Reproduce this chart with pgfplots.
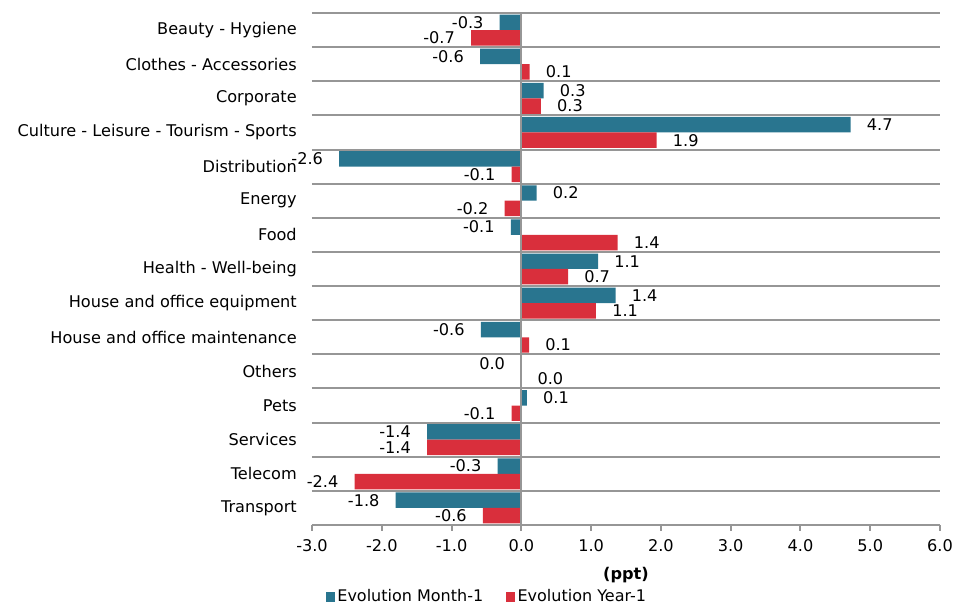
\documentclass[border=0pt]{standalone}
\usepackage{pgfplots}
\pgfplotsset{compat=1.18}
\usepackage{pgfplotstable}
\usepackage{fontspec}
\setmainfont{DejaVu Sans}
\definecolor{cblue}{RGB}{41,117,143}
\definecolor{cred}{RGB}{217,47,60}
\definecolor{gridgray}{RGB}{150,150,150}

\pgfplotstableread{
y bv bl rv rl
14 -0.31 -0.3 -0.72 -0.7
13 -0.59 -0.6 0.12 0.1
12 0.32 0.3 0.28 0.3
11 4.72 4.7 1.94 1.9
10 -2.61 -2.6 -0.14 -0.1
9 0.22 0.2 -0.24 -0.2
8 -0.15 -0.1 1.38 1.4
7 1.10 1.1 0.67 0.7
6 1.35 1.4 1.07 1.1
5 -0.58 -0.6 0.11 0.1
4 -0.001 0.0 0.0 0.0
3 0.08 0.1 -0.14 -0.1
2 -1.35 -1.4 -1.35 -1.4
1 -0.34 -0.3 -2.39 -2.4
0 -1.80 -1.8 -0.55 -0.6
}\data

\begin{document}
\fontsize{12.1}{14.5}\selectfont
\begin{tikzpicture}
\path[use as bounding box] (-234pt,-60pt) rectangle (483.75pt,393.75pt);
\begin{axis}[
  scale only axis, width=471pt, height=384pt,
  xbar, bar width=11.6pt,
  xmin=-3, xmax=6, ymin=-0.5, ymax=14.5,
  clip=false,
  /pgf/number format/assume math mode=true,
  xtick={-3,-2,-1,0,1,2,3,4,5,6},
  xticklabel={\pgfmathprintnumber[fixed,fixed zerofill,precision=1,assume math mode=true]{\tick}},
  xticklabel style={yshift=-2.5pt},
  ytick={0,...,14},
  yticklabels={Transport, Telecom, Services, Pets, Others, House and office maintenance, House and office equipment, Health - Well-being, Food, Energy, Distribution, Culture - Leisure - Tourism - Sports, Corporate, Clothes - Accessories, Beauty - Hygiene},
  yticklabel style={inner xsep=0pt, xshift=-6.75pt},
  minor ytick={-0.5,0.5,...,14.5},
  yminorgrids=true,
  minor grid style={gridgray, line width=1.5pt},
  minor tick length=0pt,
  ytick style={draw=none},
  xtick style={gridgray, line width=1.5pt},
  tick align=outside,
  major tick length=4.5pt,
  axis x line*=bottom, axis y line*=left,
  axis line style={-},
  x axis line style={gridgray, line width=1.5pt},
  y axis line style={draw=none},
  every axis x label/.style={at={(axis description cs:0.5,-0.0977)}, anchor=center},
  xlabel={\textbf{(ppt)}},
  legend style={draw=none, at={(axis description cs:0.015,-0.1406)}, anchor=west, font=\fontsize{12}{14}\selectfont, /tikz/every even column/.append style={column sep=15pt}},
  legend columns=2,
  legend image code/.code={\fill[#1] (0pt,-3.4pt) rectangle (6.8pt,3.4pt);},
  point meta=explicit symbolic,
  visualization depends on={rawx \as \xv},
  nodes near coords,
  every node near coord/.append style={text=black, inner xsep=12pt, inner ysep=0pt,
    /utils/exec={\ifdim\xv pt<0pt \pgfkeysalso{/tikz/anchor=east}\else\pgfkeysalso{/tikz/anchor=west}\fi}},
]
\addplot[fill=cblue, draw=none, bar shift=5.8pt] table[x=bv, y=y, meta=bl] {\data};
\addplot[fill=cred, draw=none, bar shift=-5.8pt] table[x=rv, y=y, meta=rl] {\data};
\legend{Evolution Month-1, Evolution Year-1}
\draw[gridgray, line width=1.5pt] (axis cs:0,-0.5) -- (axis cs:0,14.5);
\end{axis}
\end{tikzpicture}
\end{document}
